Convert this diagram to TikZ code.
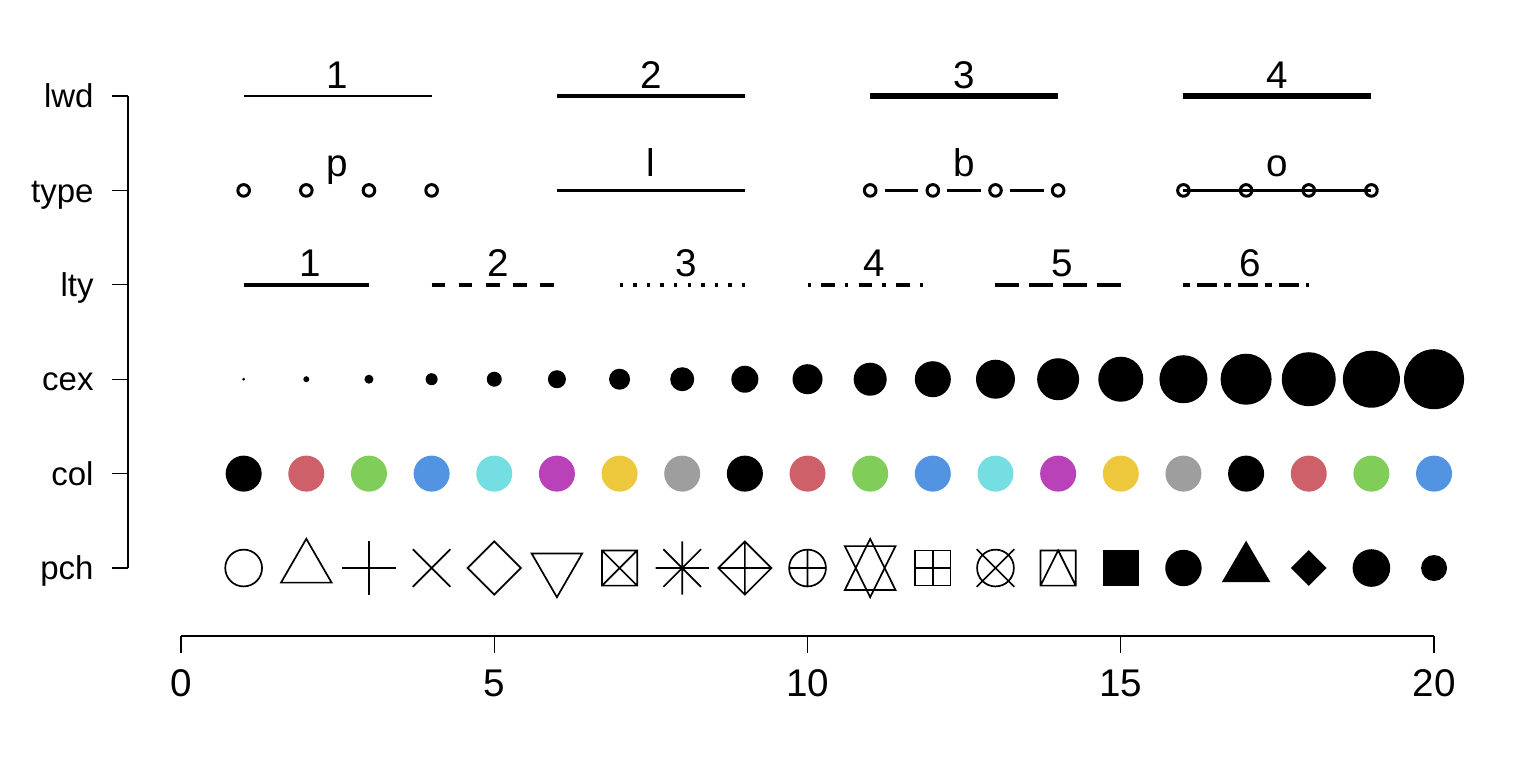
\documentclass[tikz,border=0pt]{standalone}
\usepackage{fontspec}
\setmainfont{Liberation Sans}
\definecolor{pal1}{HTML}{000000}
\definecolor{pal2}{HTML}{CD6069}
\definecolor{pal3}{HTML}{80CD5A}
\definecolor{pal4}{HTML}{5294E1}
\definecolor{pal5}{HTML}{74DEE3}
\definecolor{pal6}{HTML}{BA42B8}
\definecolor{pal7}{HTML}{EEC83C}
\definecolor{pal8}{HTML}{9E9E9E}
\newcommand{\numfont}{\fontsize{19.3}{23}\selectfont}
\newcommand{\rowfont}{\fontsize{16.5}{19}\selectfont}
\tikzset{
  lty1/.style={solid},
  lty2/.style={dash pattern=on 6.8pt off 6.8pt},
  lty3/.style={dash pattern=on 1.7pt off 5.1pt},
  lty4/.style={dash pattern=on 1.7pt off 5.1pt on 6.8pt off 5.1pt},
  lty5/.style={dash pattern=on 11.9pt off 5.1pt},
  lty6/.style={dash pattern=on 3.4pt off 3.4pt on 10.2pt off 3.4pt},
  pchat/.style={shift={(#1,5)}, x=1pt, y=1pt}
}

\begin{document}
\begin{tikzpicture}[x=31.325pt, y=-47.2pt]
\tikzstyle{rowlab}=[font=\rowfont, anchor=base east, inner sep=0pt, yshift=-5.8pt]
\tikzstyle{toplab}=[font=\numfont, anchor=base, inner sep=0pt, yshift=4pt]
\tikzstyle{typelab}=[font=\numfont, anchor=base, inner sep=0pt, yshift=6.8pt]
\tikzstyle{axis}=[line width=0.6pt]
\tikzstyle{lw}=[line width=1.7pt]
\tikzstyle{opendot}=[line width=1.5pt]
\tikzstyle{sym}=[line width=0.85pt]
\useasboundingbox (-2.889,-1.017) rectangle (21.42,7.023);

% left axis
\draw[axis] (-0.846,0) -- (-0.846,5);
\foreach \r/\t in {0/lwd,1/type,2/lty,3/cex,4/col,5/pch}
  { \draw[axis] (-1.101,\r) -- (-0.846,\r);
    \node[rowlab] (row-\t) at (-1.389,\r) {\t}; }

% bottom axis
\draw[axis] (0,5.72) -- (20,5.72);
\foreach \x in {0,5,...,20}
  { \draw[axis] (\x,5.72) -- (\x,5.9);
    \node[font=\numfont, anchor=base, inner sep=0pt] (tick-\x) at (\x,6.356) {\x}; }

% lwd
\foreach \w/\lwd in {1/0.85pt,2/1.7pt,3/2.55pt,4/3.4pt}
  { \draw[line width=\lwd] (5*\w-4,0) -- (5*\w-1,0);
    \node[toplab] (lwd-\w) at (5*\w-2.5,0) {\w}; }

% type
\foreach \x in {1,...,4} \draw[opendot] (\x,1) circle[radius=2.9pt];
\node[typelab] (type-p) at (2.5,1) {p};
\draw[lw] (6,1) -- (9,1);
\node[typelab] (type-l) at (7.5,1) {l};
\foreach \x in {11,12,13} \draw[lw] (\x+0.233,1) -- (\x+0.767,1);
\foreach \x in {11,...,14} \draw[opendot] (\x,1) circle[radius=2.9pt];
\node[typelab] (type-b) at (12.5,1) {b};
\draw[lw] (16,1) -- (19,1);
\foreach \x in {16,...,19} \draw[opendot] (\x,1) circle[radius=2.9pt];
\node[typelab] (type-o) at (17.5,1) {o};

% lty
\foreach \k in {1,...,6}
  { \draw[lw, lty\k] (3*\k-2,2) -- (3*\k,2);
    \node[toplab] (lty-\k) at (3*\k-0.94,2) {\k}; }

% cex
\foreach \i in {1,...,20} \fill (\i,3) circle[radius=0.75pt*\i];

% col
\foreach \i in {1,...,20}
  { \pgfmathtruncatemacro\c{mod(\i-1,8)+1}
    \fill[pal\c] (\i,4) circle[radius=9pt]; }

% pch
\draw[sym] (1,5) circle[radius=9.2pt];
\draw[sym, pchat=2] (0,14.6) -- (12.65,-7.3) -- (-12.65,-7.3) -- cycle;
\draw[sym, pchat=3] (-13.3,0) -- (13.3,0) (0,-13.3) -- (0,13.3);
\draw[sym, pchat=4] (-9.4,-9.4) -- (9.4,9.4) (-9.4,9.4) -- (9.4,-9.4);
\draw[sym, pchat=5] (13.3,0) -- (0,13.3) -- (-13.3,0) -- (0,-13.3) -- cycle;
\draw[sym, pchat=6] (0,-14.6) -- (12.65,7.3) -- (-12.65,7.3) -- cycle;
\draw[sym, pchat=7] (-8.8,-8.8) rectangle (8.8,8.8)
  (-8.8,-8.8) -- (8.8,8.8) (-8.8,8.8) -- (8.8,-8.8);
\draw[sym, pchat=8] (-13.3,0) -- (13.3,0) (0,-13.3) -- (0,13.3)
  (-9.4,-9.4) -- (9.4,9.4) (-9.4,9.4) -- (9.4,-9.4);
\draw[sym, pchat=9] (13.3,0) -- (0,13.3) -- (-13.3,0) -- (0,-13.3) -- cycle
  (-13.3,0) -- (13.3,0) (0,-13.3) -- (0,13.3);
\draw[sym, pchat=10] (0,0) circle[radius=9.2]
  (-9.2,0) -- (9.2,0) (0,-9.2) -- (0,9.2);
\draw[sym, pchat=11] (0,14.6) -- (12.66,-10.96) -- (-12.66,-10.96) -- cycle
  (0,-14.6) -- (12.66,10.96) -- (-12.66,10.96) -- cycle;
\draw[sym, pchat=12] (-8.8,-8.8) rectangle (8.8,8.8)
  (-8.8,0) -- (8.8,0) (0,-8.8) -- (0,8.8);
\draw[sym, pchat=13] (0,0) circle[radius=9.2]
  (-9.4,-9.4) -- (9.4,9.4) (-9.4,9.4) -- (9.4,-9.4);
\draw[sym, pchat=14] (-8.8,-8.8) rectangle (8.8,8.8)
  (-8.8,-8.8) -- (0,8.8) -- (8.8,-8.8);
\fill[pchat=15] (-9.1,-9.1) rectangle (9.1,9.1);
\fill[pchat=16] (0,0) circle[radius=9.1];
\fill[pchat=17] (0,13.65) -- (12.1,-7) -- (-12.1,-7) -- cycle;
\fill[pchat=18] (8.9,0) -- (0,8.9) -- (-8.9,0) -- (0,-8.9) -- cycle;
\fill[pchat=19] (0,0) circle[radius=9.4];
\fill[pchat=20] (0,0) circle[radius=6.5];
\end{tikzpicture}
\end{document}
